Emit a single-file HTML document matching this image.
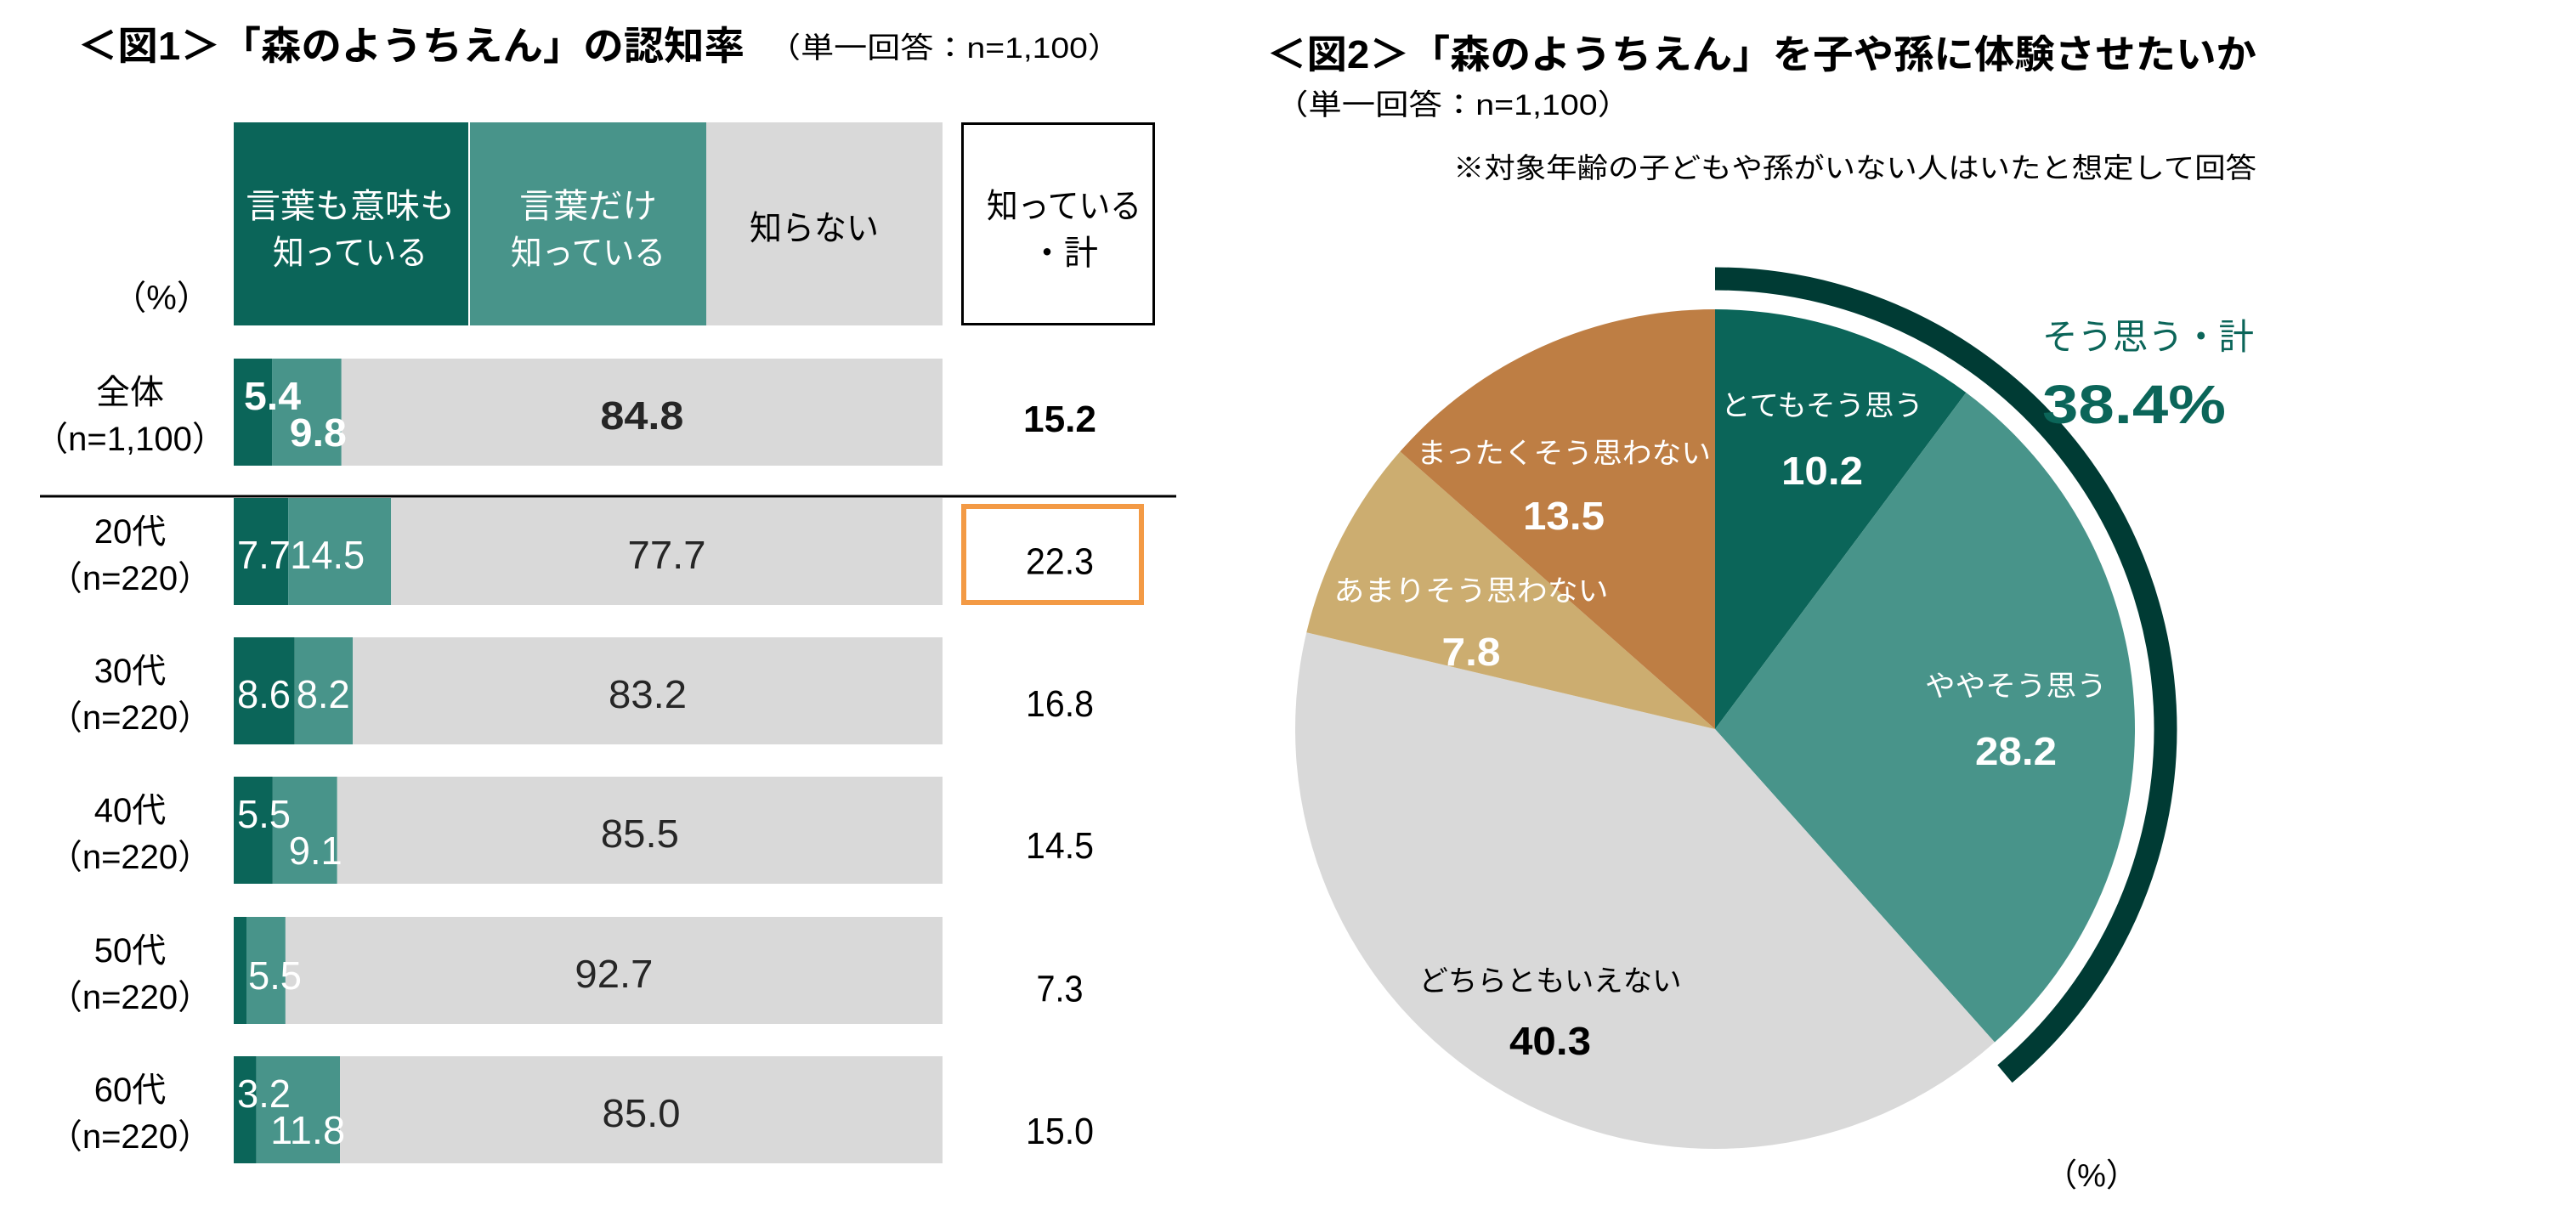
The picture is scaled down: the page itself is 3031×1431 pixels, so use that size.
<!DOCTYPE html>
<html><head><meta charset="utf-8"><style>
html,body{margin:0;padding:0;background:#fff;}
svg{display:block;font-family:"Liberation Sans","Noto Sans CJK JP",sans-serif;}
</style></head><body>
<svg id="chart" width="3031" height="1431" viewBox="0 0 3031 1431" xmlns="http://www.w3.org/2000/svg">
<g>
<text x="91" y="70" font-size="46" font-weight="bold" textLength="785" lengthAdjust="spacingAndGlyphs" fill="#000">＜図1＞「森のようちえん」の認知率</text>
<text x="903" y="68" font-size="34" textLength="416" lengthAdjust="spacingAndGlyphs" fill="#000">（単一回答：n=1,100）</text>
<rect x="275" y="144" width="276" height="239" fill="#0b6559"/>
<rect x="553" y="144" width="278" height="239" fill="#48948a"/>
<rect x="831" y="144" width="278" height="239" fill="#d9d9d9"/>
<text x="412" y="256" font-size="40" fill="#fff" text-anchor="middle" textLength="246" lengthAdjust="spacingAndGlyphs">言葉も意味も</text>
<text x="412" y="311" font-size="40" fill="#fff" text-anchor="middle" textLength="182" lengthAdjust="spacingAndGlyphs">知っている</text>
<text x="692" y="256" font-size="40" fill="#fff" text-anchor="middle" textLength="162" lengthAdjust="spacingAndGlyphs">言葉だけ</text>
<text x="692" y="311" font-size="40" fill="#fff" text-anchor="middle" textLength="182" lengthAdjust="spacingAndGlyphs">知っている</text>
<text x="958" y="282" font-size="40" fill="#000" text-anchor="middle" textLength="152" lengthAdjust="spacingAndGlyphs">知らない</text>
<rect x="1132.5" y="145.5" width="225" height="236" fill="none" stroke="#000" stroke-width="3"/>
<text x="1252" y="256" font-size="40" fill="#000" text-anchor="middle" textLength="182" lengthAdjust="spacingAndGlyphs">知っている</text>
<text x="1252" y="311" font-size="40" fill="#000" text-anchor="middle">・計</text>
<text x="190" y="364" font-size="40" fill="#000" text-anchor="middle">（%）</text>
<line x1="47" y1="584" x2="1384" y2="584" stroke="#000" stroke-width="3"/>
<rect x="1134" y="596" width="209" height="113" fill="none" stroke="#f39a45" stroke-width="6"/>
<g id="bars"></g>
</g>
<g>
<text x="1490" y="80" font-size="46" font-weight="bold" textLength="1165" lengthAdjust="spacingAndGlyphs" fill="#000">＜図2＞「森のようちえん」を子や孫に体験させたいか</text>
<text x="1500" y="135" font-size="34" textLength="419" lengthAdjust="spacingAndGlyphs" fill="#000">（単一回答：n=1,100）</text>
<text x="1710" y="209" font-size="33" textLength="945" lengthAdjust="spacingAndGlyphs" fill="#000">※対象年齢の子どもや孫がいない人はいたと想定して回答</text>
<g id="pie"></g>
<text x="2403" y="411" font-size="42" fill="#0b6559" textLength="249" lengthAdjust="spacingAndGlyphs">そう思う・計</text>
<text x="2403" y="498" font-size="64" font-weight="bold" fill="#0b6559" textLength="216" lengthAdjust="spacingAndGlyphs">38.4%</text>
<text x="2461" y="1396" font-size="38" fill="#000" text-anchor="middle">（%）</text>
</g>
</svg>
<script>
const rowLabels = ["全体", "20代", "30代", "40代", "50代", "60代"];
const rowNs = ["（n=1,100）", "（n=220）", "（n=220）", "（n=220）", "（n=220）", "（n=220）"];
const knowMeaning = [5.4, 7.7, 8.6, 5.5, 1.8, 3.2];
const knowWord = [9.8, 14.5, 8.2, 9.1, 5.5, 11.8];
const dontKnow = [84.8, 77.7, 83.2, 85.5, 92.7, 85.0];
const knowTotal = [15.2, 22.3, 16.8, 14.5, 7.3, 15.0];

const pieLabels = ["とてもそう思う", "ややそう思う", "どちらともいえない", "あまりそう思わない", "まったくそう思わない"];
const pieValues = [10.2, 28.2, 40.3, 7.8, 13.5];
const agreeTotal = 38.4;

const NS = "http://www.w3.org/2000/svg";
function mk(tag, attrs, parent, txt){const e=document.createElementNS(NS,tag);for(const k in attrs)e.setAttribute(k,attrs[k]);if(txt!==undefined)e.textContent=txt;parent.appendChild(e);return e;}
function numW(s, bold){let w=0;for(const ch of s){w += ch==='.' ? 13 : (bold?27:25);}return w;}

// bar chart axes
const X0 = 275, XW = 834;
const xs = v => X0 + v / 100 * XW;
const rowTop = [422, 586, 750, 914, 1079, 1243];
const BH = 126;
const bars = document.getElementById('bars');
const fmt = v => v.toFixed(1);
rowLabels.forEach((lab, i) => {
  const y = rowTop[i], cy = y + BH / 2, bold = i === 0;
  const t1 = mk('text', {x:153, y:cy-10, 'font-size':40, 'text-anchor':'middle', fill:'#000'}, bars, lab);
  
  
  const t2 = mk('text', {x:153, y:cy+45, 'font-size':40, 'text-anchor':'middle', fill:'#000'}, bars, rowNs[i]);
  
  
  const a = knowMeaning[i], b = knowWord[i], c = dontKnow[i];
  const r1 = mk('rect', {x:xs(0), y:y, width:xs(a)-xs(0), height:BH, fill:'#0b6559'}, bars);
  
  
  const r2 = mk('rect', {x:xs(a), y:y, width:xs(a+b)-xs(a), height:BH, fill:'#48948a'}, bars);
  
  
  const r3 = mk('rect', {x:xs(a+b), y:y, width:xs(100)-xs(a+b), height:BH, fill:'#d9d9d9'}, bars);
  
  
  const fw = bold ? 'bold' : 'normal';
  const twoLine = (i === 0 || i === 3 || i === 5);
  if (i !== 4) {
    const sa = fmt(a);
    const la = mk('text', {x: xs(0)+(twoLine && i===0 ? 12 : 4), y: twoLine ? cy-3 : cy+20, 'font-size':46, 'font-weight':fw, fill:'#fff', textLength:numW(sa,bold), lengthAdjust:'spacingAndGlyphs'}, bars, sa);
    
    
  }
  const sb = fmt(b);
  let bx, by;
  if (twoLine) { bx = xs(a+b) + 6 - numW(sb,bold); by = cy + 40; }
  else if (i === 4) { bx = xs(a) + 2; by = cy + 22; }
  else { bx = xs(a) + 2; by = cy + 20; }
  const lb = mk('text', {x: bx, y: by, 'font-size':46, 'font-weight':fw, fill:'#fff', textLength:numW(sb,bold), lengthAdjust:'spacingAndGlyphs'}, bars, sb);
  
  
  const sc = fmt(c);
  const lc = mk('text', {x:(xs(a+b)+xs(100))/2, y:cy+20, 'font-size':46, 'font-weight':fw, fill:'#262626', 'text-anchor':'middle', textLength:numW(sc,bold)+4, lengthAdjust:'spacingAndGlyphs'}, bars, sc);
  
  
  const st = fmt(knowTotal[i]);
  const lt = mk('text', {x:1247, y:cy+23+3.4*i, 'font-size':44, 'font-weight':fw, fill:'#000', 'text-anchor':'middle', textLength:numW(st,bold)-8, lengthAdjust:'spacingAndGlyphs'}, bars, st);
  
  
});

// pie
const CX = 2018, CY = 858, R = 494;
const pieColors = ["#0b6559", "#48948a", "#d9d9d9", "#ccad70", "#be7e44"];
const labelFill = ["#fff", "#fff", "#000", "#fff", "#fff"];
const labelPos = [[2144, 489, 570], [2372, 819, 900], [1824, 1166, 1241], [1731, 707, 783], [1840, 545, 623]];
const labelW = [238, 214, 309, 323, 346];
const pie = document.getElementById('pie');
const pt = (ang, r) => [CX + r * Math.sin(ang), CY - r * Math.cos(ang)];
const total = pieValues.reduce((s, v) => s + v, 0);
let acc = 0;
pieValues.forEach((v, i) => {
  const a0 = acc / total * 2 * Math.PI; acc += v;
  const a1 = acc / total * 2 * Math.PI;
  const [x0, y0] = pt(a0, R), [x1, y1] = pt(a1, R);
  const large = (a1 - a0) > Math.PI ? 1 : 0;
  const p = mk('path', {d:`M${CX},${CY} L${x0},${y0} A${R},${R} 0 ${large} 1 ${x1},${y1} Z`, fill:pieColors[i]}, pie);
  
  
});
pieValues.forEach((v, i) => {
  const [lx, ly1, ly2] = labelPos[i];
  const tl = mk('text', {x:lx, y:ly1, 'font-size':34, fill:labelFill[i], 'text-anchor':'middle', textLength:labelW[i], lengthAdjust:'spacingAndGlyphs'}, pie, pieLabels[i]);
  
  
  const sv = v.toFixed(1);
  const tv = mk('text', {x:lx, y:ly2, 'font-size':46, 'font-weight':'bold', fill:labelFill[i], 'text-anchor':'middle', textLength:numW(sv,true)+2, lengthAdjust:'spacingAndGlyphs'}, pie, sv);
  
  
});
// agree total arc
const AR = 530, aEnd = agreeTotal / 100 * 2 * Math.PI + 0.03;
const [ax0, ay0] = pt(0, AR), [ax1, ay1] = pt(aEnd, AR);
const arc = mk('path', {d:`M${ax0},${ay0} A${AR},${AR} 0 0 1 ${ax1},${ay1}`, fill:'none', stroke:'#003b34', 'stroke-width':27}, pie);


</script>
</body></html>
